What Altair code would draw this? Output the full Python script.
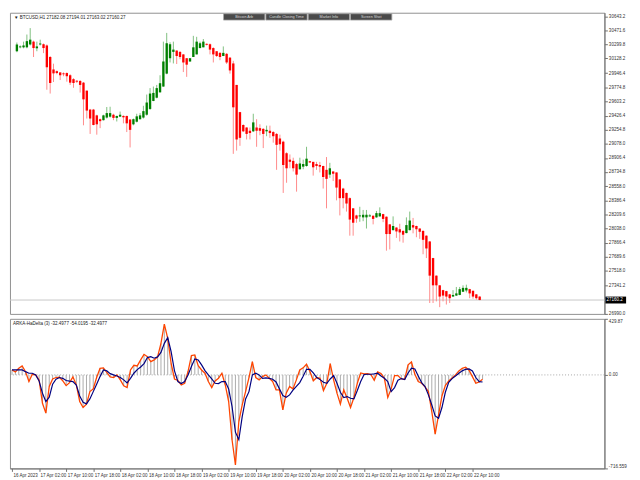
import json
import altair as alt
import pandas as pd

# ---------------- data ----------------
opens = [30217, 30265, 30265, 30265, 30300, 30335, 30253, 30300, 30303, 30288,
         30146, 29993, 29972, 29957, 29945, 29949, 29922, 29874, 29854, 29851,
         29831, 29733, 29500, 29500, 29429, 29382, 29370, 29402, 29413, 29437,
         29398, 29413, 29422, 29422, 29378, 29319, 29351, 29382, 29402, 29437,
         29508, 29606, 29646, 29712, 29783, 29942, 30131, 30209, 30225, 30209,
         30178, 30131, 30091, 30146, 30178, 30256, 30265, 30308, 30303, 30256,
         30217, 30197, 30158, 30185, 30138, 30067, 29803, 29469, 29311, 29280,
         29240, 29233, 29280, 29272, 29263, 29233, 29240, 29224, 29201, 29145,
         29106, 28964, 28885, 28870, 28831, 28767, 28799, 28807, 28866, 28858,
         28831, 28819, 28807, 28760, 28701, 28740, 28728, 28642, 28530, 28476,
         28412, 28287, 28200, 28188, 28176, 28176, 28188, 28196, 28176, 28188,
         28216, 28184, 28090, 28019, 28051, 28030, 28010, 27983, 28019, 28081,
         28070, 28039, 28010, 27951, 27880, 27676, 27460, 27341, 27282, 27270,
         27230, 27203, 27215, 27223, 27262, 27278, 27294, 27274, 27230, 27203]

highs = [30324, 30288, 30335, 30422, 30501, 30347, 30335, 30359, 30312, 30300,
         30158, 30064, 29981, 29957, 29957, 29957, 29934, 29886, 29863, 29863,
         29839, 29733, 29508, 29508, 29437, 29390, 29437, 29532, 29535, 29449,
         29425, 29476, 29429, 29425, 29382, 29390, 29449, 29457, 29547, 29685,
         29764, 29783, 29803, 29922, 30335, 30442, 30327, 30335, 30229, 30217,
         30182, 30134, 30134, 30406, 30394, 30335, 30367, 30312, 30312, 30265,
         30217, 30205, 30276, 30194, 30146, 30099, 29803, 29472, 29319, 29283,
         29280, 29449, 29382, 29319, 29272, 29303, 29303, 29236, 29212, 29192,
         29118, 28976, 28949, 28909, 28846, 28909, 28885, 29043, 28870, 28858,
         28858, 28858, 28811, 28917, 28846, 28740, 28728, 28645, 28539, 28480,
         28421, 28291, 28208, 28306, 28267, 28267, 28216, 28200, 28255, 28299,
         28220, 28188, 28093, 28188, 28054, 28098, 28015, 28176, 28247, 28169,
         28074, 28042, 28015, 27956, 27885, 27679, 27463, 27345, 27286, 27274,
         27235, 27282, 27321, 27321, 27341, 27349, 27298, 27277, 27235, 27207]

lows = [30205, 30253, 30253, 30253, 30288, 30146, 30217, 30288, 30194, 29744,
        29697, 29839, 29934, 29863, 29910, 29843, 29803, 29768, 29827, 29709,
        29307, 29390, 29201, 29307, 29192, 29272, 29366, 29390, 29402, 29370,
        29354, 29413, 29331, 29224, 29035, 29307, 29342, 29378, 29390, 29425,
        29496, 29603, 29638, 29709, 29780, 29934, 30079, 30067, 30060, 30119,
        29961, 29902, 30087, 30146, 30178, 30253, 30265, 30288, 30178, 30079,
        30146, 30107, 30158, 30060, 29942, 28956, 28996, 29055, 29224, 29133,
        29133, 29224, 29043, 29185, 29027, 29173, 29153, 29094, 28760, 28996,
        28476, 28601, 28779, 28740, 28492, 28763, 28767, 28799, 28846, 28689,
        28760, 28728, 28530, 28287, 28661, 28622, 28385, 28200, 28287, 28247,
        27951, 27951, 28110, 28122, 28129, 28039, 28184, 28090, 28172, 28184,
        28117, 27767, 27782, 28015, 27924, 27880, 27865, 27980, 28015, 27980,
        27932, 27912, 27723, 27676, 27124, 27124, 27144, 27073, 27144, 27105,
        27124, 27200, 27211, 27219, 27259, 27254, 27183, 27176, 27164, 27160]

closes = [30300, 30276, 30288, 30341, 30359, 30256, 30276, 30312, 30256, 30020,
          29827, 29945, 29949, 29922, 29934, 29910, 29831, 29827, 29843, 29803,
          29626, 29488, 29390, 29311, 29319, 29358, 29429, 29457, 29457, 29398,
          29422, 29437, 29405, 29331, 29251, 29382, 29417, 29429, 29481, 29587,
          29697, 29705, 29764, 29824, 30091, 30315, 30303, 30237, 30158, 30146,
          30079, 30052, 30131, 30265, 30335, 30315, 30335, 30296, 30237, 30178,
          30158, 30146, 30197, 30079, 29981, 29528, 29133, 29153, 29233, 29201,
          29212, 29343, 29240, 29240, 29201, 29251, 29212, 29173, 29067, 29074,
          28819, 28779, 28858, 28779, 28701, 28838, 28831, 28897, 28850, 28791,
          28807, 28799, 28672, 28649, 28779, 28712, 28542, 28412, 28412, 28346,
          28149, 28110, 28160, 28200, 28208, 28208, 28200, 28157, 28228, 28228,
          28157, 27971, 27971, 28070, 28003, 27991, 27963, 28081, 28137, 28051,
          28030, 27999, 27900, 27794, 27460, 27341, 27341, 27203, 27215, 27203,
          27183, 27223, 27242, 27294, 27310, 27310, 27242, 27203, 27183, 27160.27]

# ARKA-HaDelta histogram (= orange line) and signal (navy line)
hadelta = [38, 23, 51, 69, 25, -51, 5, 0, -38, -217,
           -293, -89, -31, -20, -18, -46, -82, -59, -15, -76,
           -204, -250, -224, -128, -107, -20, 51, 54, 20, -15,
           -20, 0, -38, -84, -97, 38, 74, 69, 115, 158,
           140, 102, 115, 138, 242, 390, 281, 89, -31, -43,
           -77, -64, 26, 148, 153, 71, 38, 13, -51, -97,
           -46, -26, 13, -77, -204, -497, -690, -357, -230, -128,
           -20, 102, -20, -38, -13, 0, -26, -51, -115, -115,
           -268, -140, -89, -107, -38, 38, 54, 82, 26, -45,
           -20, -26, -120, -64, 87, -38, -140, -224, -115, -179,
           -250, -173, -64, 15, 8, 10, 3, -41, 23, 10,
           -26, -173, -107, -5, -5, -31, -33, 77, 99, 5,
           -51, -64, -92, -128, -281, -454, -306, -161, -82, -46,
           -23, 0, 31, 51, 59, 36, -13, -64, -54, -32.4977]

signal = [38, 38, 38, 38, 25, 13, 13, 0, -46, -140,
          -204, -171, -71, -33, -20, -26, -43, -48, -51, -77,
          -161, -209, -222, -184, -128, -71, -13, 38, 31, 10,
          0, -8, -20, -38, -61, -26, 13, 41, 61, 87,
          133, 140, 128, 138, 173, 242, 286, 179, 31, -51,
          -66, -51, 0, 64, 122, 115, 77, 33, 0, -31,
          -64, -66, -51, -51, -107, -242, -439, -497, -319, -184,
          -128, 0, 13, 0, -26, -23, -26, -33, -54, -107,
          -158, -171, -153, -117, -87, -59, -10, 43, 43, 15,
          -20, -36, -56, -64, -31, -5, -64, -133, -173, -166,
          -179, -184, -120, -51, 3, 5, 5, 8, 13, -8,
          -26, -51, -128, -97, -41, -28, -36, 15, 51, 46,
          -8, -59, -89, -153, -230, -314, -332, -250, -133, -56,
          -28, -8, 13, 31, 43, 46, 31, -20, -51, -54.0195]

price_ticks = [30643.2, 30471.6, 30299.8, 30128.2, 29946.4, 29774.8, 29603.2,
               29426.4, 29254.8, 29078.0, 28906.4, 28734.8, 28558.0, 28386.4,
               28209.6, 28038.0, 27866.4, 27689.6, 27518.0, 27341.2, 26990.0]
ind_ticks = [429.87, 0.0, -716.559]
ind_tick_labels = ["429.87", "0.00", "-716.559"]
x_labels = ["16 Apr 2023", "17 Apr 02:00", "17 Apr 10:00", "17 Apr 18:00",
            "18 Apr 02:00", "18 Apr 10:00", "18 Apr 18:00", "19 Apr 02:00",
            "19 Apr 10:00", "19 Apr 18:00", "20 Apr 02:00", "20 Apr 10:00",
            "20 Apr 18:00", "21 Apr 02:00", "21 Apr 10:00", "21 Apr 18:00",
            "22 Apr 02:00", "22 Apr 10:00"]
bid = 27160.27
bid_label = "27160.2"
header = "\u25BC BTCUSD,H1  27182.08 27194.01 27163.02 27160.27"
ind_title = "ARKA-HaDelta (3) -32.4977 -54.0195 -32.4977"
buttons = ["Bitcoin Arb", "Candle Closing Time", "Market Info", "Screen Shot"]

# ---------------- chart ----------------
n = len(closes)
df = pd.DataFrame({"i": list(range(n)), "open": opens, "high": highs,
                   "low": lows, "close": closes, "hist": hadelta, "sig": signal})

W, H1, H2 = 604, 306, 152
FONT = "Liberation Sans"
FS = 4.6

xs = alt.Scale(domain=[-0.6, 175], nice=False, zero=False)
xq = alt.X("i:Q", scale=xs, axis=None)
ps = alt.Scale(domain=[26990, 30690], nice=False, zero=False)

price_axis = alt.Axis(
    orient="right", values=price_ticks, format=".1f", labelFontSize=FS,
    labelFont=FONT, labelColor="#303030", tickSize=3, tickColor="#707070",
    domainColor="#707070", labelPadding=1, labelOverlap=False,
    labelBound=False, grid=False, title=None)

base = alt.Chart(df)
up = "datum.close >= datum.open"

wick = base.mark_rule(strokeWidth=1).encode(
    x=xq,
    y=alt.Y("low:Q", scale=ps, axis=price_axis),
    y2="high:Q",
    color=alt.condition(up, alt.value("#7fc07f"), alt.value("#ff8a8a")),
)
body = base.mark_bar(size=2.4).encode(
    x=xq, y=alt.Y("open:Q", scale=ps, axis=price_axis), y2="close:Q",
    color=alt.condition(up, alt.value("#008000"), alt.value("#ff0000")),
)
bid_df = pd.DataFrame({"p": [bid], "t": [bid_label]})
bid_line = alt.Chart(bid_df).mark_rule(
    color="#c8c8c8", strokeWidth=1).encode(y=alt.Y("p:Q", scale=ps, axis=price_axis))
bid_box = alt.Chart(bid_df).mark_rule(
    color="black", strokeWidth=7).encode(
    x=alt.value(W + 1), x2=alt.value(W + 22), y=alt.Y("p:Q", scale=ps, axis=price_axis))
bid_txt = alt.Chart(bid_df).mark_text(
    color="white", fontSize=FS, font=FONT, align="left", baseline="middle").encode(
    x=alt.value(W + 2), y=alt.Y("p:Q", scale=ps, axis=price_axis), text="t:N")
head = alt.Chart(pd.DataFrame({"t": [header]})).mark_text(
    align="left", baseline="middle", fontSize=FS, font=FONT, color="#202020").encode(
    x=alt.value(4), y=alt.value(5), text="t:N")

btn_layers = []
bx = [217, 260, 303, 346]
for k, lab in enumerate(buttons):
    d = pd.DataFrame({"t": [lab]})
    btn_layers.append(alt.Chart(d).mark_rect(
        fill="#4a4a4a", stroke="#a8a8a8", strokeWidth=0.8).encode(
        x=alt.value(bx[k]), x2=alt.value(bx[k] + 42), y=alt.value(1), y2=alt.value(7.5)))
    btn_layers.append(alt.Chart(d).mark_text(
        fontSize=3.8, font=FONT, color="#d8d8d8", align="center", baseline="middle").encode(
        x=alt.value(bx[k] + 21), y=alt.value(4.3), text="t:N"))

main = alt.layer(bid_line, wick, body, bid_box, bid_txt, head, *btn_layers).properties(
    width=W, height=H1)

# indicator panel
isc = alt.Scale(domain=[-716.559, 429.87], nice=False, zero=False)
label_expr = json.dumps(x_labels) + "[round(datum.value / 8)]"
ind_expr = ("datum.value > 1 ? '%s' : (datum.value < -1 ? '%s' : '%s')"
            % (ind_tick_labels[0], ind_tick_labels[2], ind_tick_labels[1]))
xaxis = alt.X("i:Q", scale=xs, axis=alt.Axis(
    values=list(range(0, 8 * len(x_labels), 8)), labelExpr=label_expr,
    labelAlign="left", labelOffset=1, labelFontSize=FS, labelFont=FONT,
    labelColor="#303030", tickSize=3, tickColor="#707070", domainColor="#707070",
    labelPadding=1, labelOverlap=False, labelFlush=False, grid=False, title=None))
ind_axis = alt.Axis(
    orient="right", values=ind_ticks, labelExpr=ind_expr, labelFontSize=FS,
    labelFont=FONT, labelColor="#303030", tickSize=3, tickColor="#707070",
    domainColor="#707070", labelPadding=1, labelFlush=True,
    labelOverlap=False, grid=False, title=None)

hist = base.mark_rule(color="#aaaaaa", strokeWidth=1).encode(
    x=xaxis, y=alt.Y("hist:Q", scale=isc, axis=ind_axis), y2=alt.datum(0))
zero = alt.Chart(pd.DataFrame({"z": [0.0]})).mark_rule(
    color="#909090", strokeDash=[1, 2], strokeWidth=0.8).encode(
    y=alt.Y("z:Q", scale=isc, axis=ind_axis))
orange = base.mark_line(color="#ff4500", strokeWidth=1.3).encode(
    x=xaxis, y=alt.Y("hist:Q", scale=isc, axis=ind_axis))
navy = base.mark_line(color="#000080", strokeWidth=1.2).encode(
    x=xaxis, y=alt.Y("sig:Q", scale=isc, axis=ind_axis))
ititle = alt.Chart(pd.DataFrame({"t": [ind_title]})).mark_text(
    align="left", baseline="middle", fontSize=FS, font=FONT, color="#202020").encode(
    x=alt.value(3), y=alt.value(5), text="t:N")

ind = alt.layer(zero, hist, orange, navy, ititle).properties(width=W, height=H2)

chart = alt.vconcat(main, ind, spacing=1).properties(
    padding={"left": 0, "top": 0, "right": 2, "bottom": 1},
    background="white",
).configure_view(stroke="#909090", strokeWidth=1).configure_axis(labelOverlap=False)

chart.save("out.html", embed_options={"renderer": "svg", "actions": False})
